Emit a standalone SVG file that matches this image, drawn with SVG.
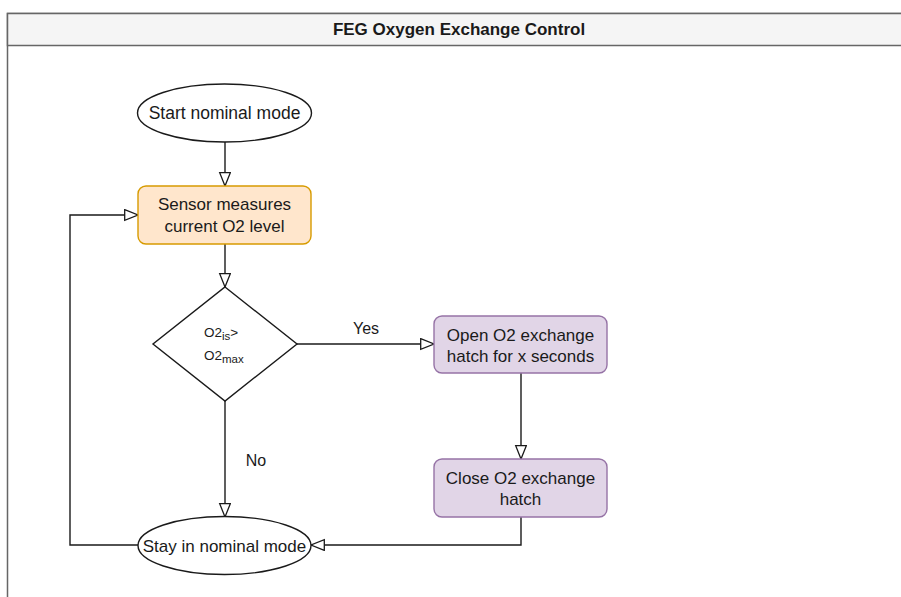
<svg xmlns="http://www.w3.org/2000/svg" width="901" height="597" viewBox="0 0 901 597">
  <defs>
    <marker id="open-arrow" markerUnits="userSpaceOnUse" markerWidth="16" markerHeight="14" refX="14" refY="6" orient="auto">
      <path d="M0.7,0.7 L14,6 L0.7,11.3 Z" fill="#ffffff" stroke="#1a1a1a" stroke-width="1.3"/>
    </marker>
    <style>
      text { font-family: "Liberation Sans", Arial, Helvetica, sans-serif; fill: #1a1a1a; }
      .lbl { font-size: 17px; text-anchor: middle; }
      .title { font-size: 17px; font-weight: bold; text-anchor: middle; }
      .cond { font-size: 13.5px; }
      .sub { font-size: 11.5px; }
      .term { fill: #ffffff; stroke: #1a1a1a; stroke-width: 1.4; }
      .sensor { fill: #ffe6cc; stroke: #d79b00; stroke-width: 1.4; }
      .action { fill: #e1d5e7; stroke: #9673a6; stroke-width: 1.4; }
      .edge { fill: none; stroke: #1a1a1a; stroke-width: 1.4; marker-end: url(#open-arrow); }
    </style>
  </defs>

  <rect width="901" height="597" fill="#ffffff"/>

  <!-- swimlane container, wider than the canvas -->
  <g id="container">
    <rect x="7.5" y="13.5" width="1000" height="620" fill="#ffffff" stroke="#666666" stroke-width="1.5"/>
    <rect x="7.5" y="13.5" width="1000" height="32" fill="#f5f5f5" stroke="#666666" stroke-width="1.5"/>
    <text class="title" x="459" y="35">FEG Oxygen Exchange Control</text>
  </g>

  <!-- connectors -->
  <g id="connectors">
    <path class="edge" d="M225,142 V186"/>
    <path class="edge" d="M225,244 V287"/>
    <path class="edge" d="M297,344 H434"/>
    <path class="edge" d="M521,373 V459"/>
    <path class="edge" d="M521,517 V545 H311"/>
    <path class="edge" d="M225,401 V517"/>
    <path class="edge" d="M138,545 H70 V215 H138"/>
    <text class="lbl" x="366" y="334" style="font-size:16px">Yes</text>
    <text class="lbl" x="256" y="466" style="font-size:16px">No</text>
  </g>

  <g id="start">
    <ellipse class="term" cx="224.5" cy="113" rx="87" ry="29"/>
    <text class="lbl" x="224.5" y="119" style="font-size:17.5px">Start nominal mode</text>
  </g>

  <g id="sensor">
    <rect class="sensor" x="138" y="186" width="173" height="58" rx="8" ry="8"/>
    <text class="lbl" x="224.5" y="210">Sensor measures</text>
    <text class="lbl" x="224.5" y="232">current O2 level</text>
  </g>

  <g id="decision">
    <polygon class="term" points="225,287 297,344 225,401 153,344"/>
    <text class="cond" x="204" y="337">O2<tspan class="sub" dy="3">is</tspan><tspan dy="-3">&gt;</tspan></text>
    <text class="cond" x="204" y="360">O2<tspan class="sub" dy="3">max</tspan></text>
  </g>

  <g id="open-hatch">
    <rect class="action" x="434" y="316" width="173" height="57" rx="8" ry="8"/>
    <text class="lbl" x="520.5" y="341">Open O2 exchange</text>
    <text class="lbl" x="520.5" y="362">hatch for x seconds</text>
  </g>

  <g id="close-hatch">
    <rect class="action" x="434" y="459" width="173" height="58" rx="8" ry="8"/>
    <text class="lbl" x="520.5" y="484">Close O2 exchange</text>
    <text class="lbl" x="520.5" y="505">hatch</text>
  </g>

  <g id="stay">
    <ellipse class="term" cx="224.5" cy="545.5" rx="86.5" ry="29"/>
    <text class="lbl" x="224.5" y="551.5">Stay in nominal mode</text>
  </g>
</svg>
